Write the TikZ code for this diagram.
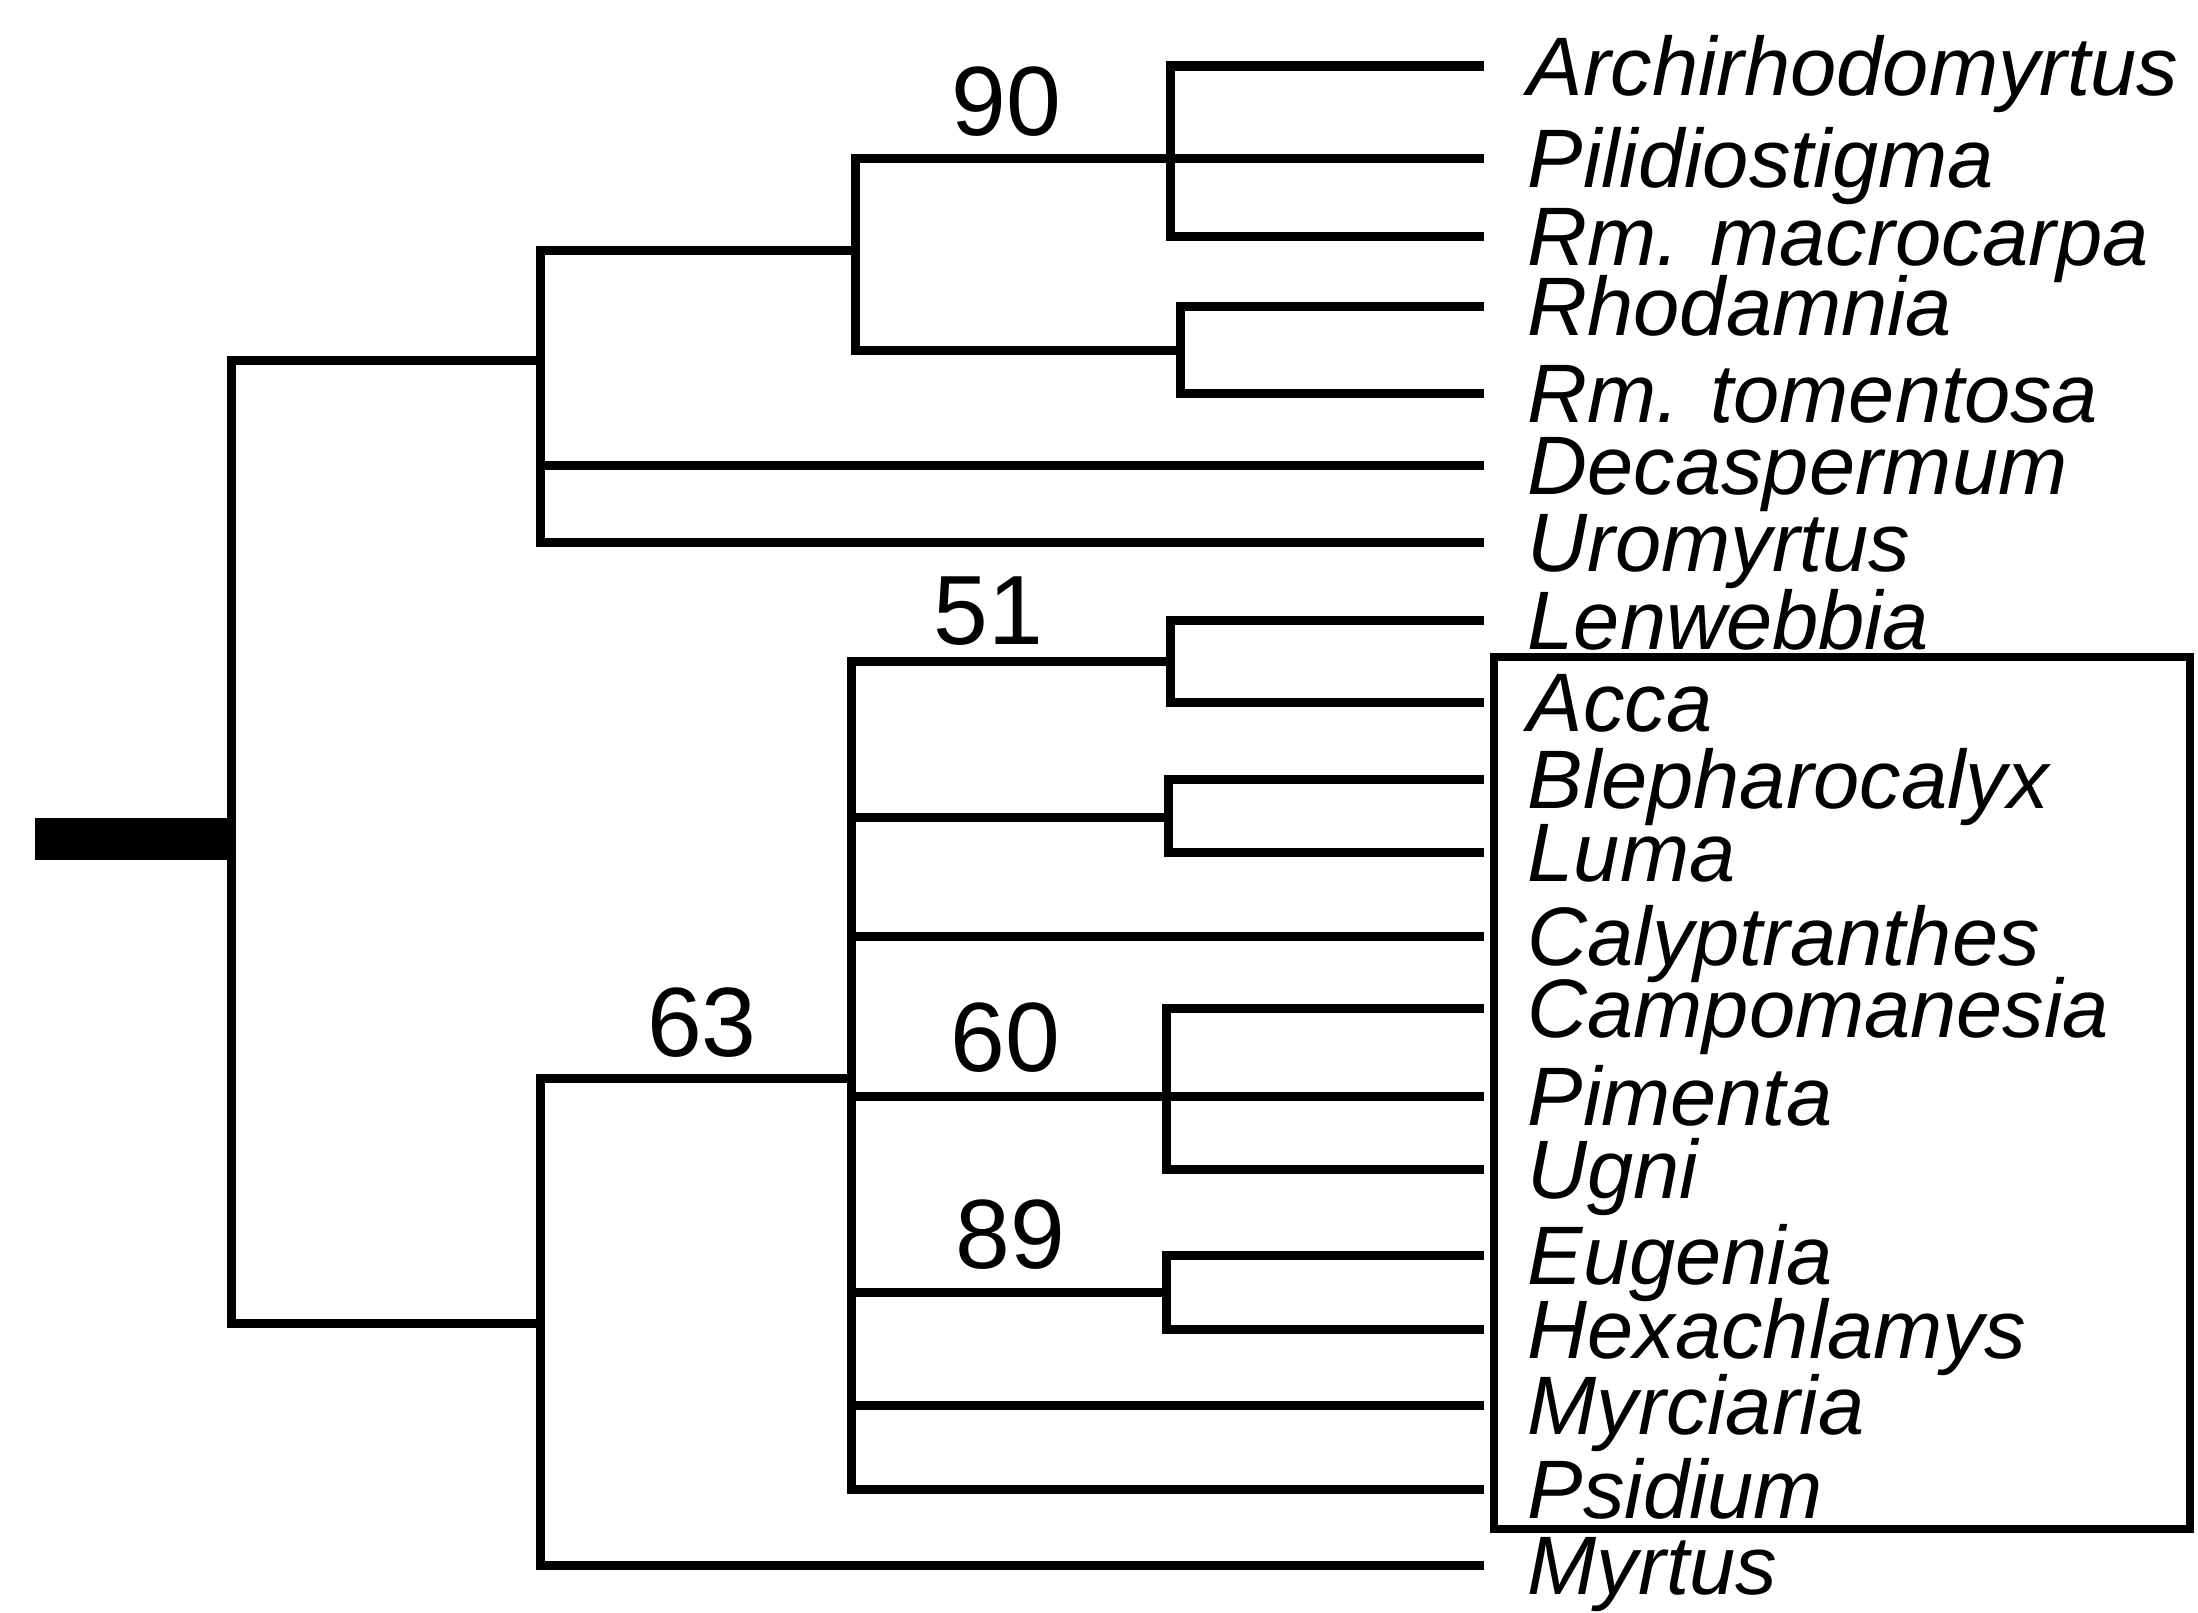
\documentclass[tikz,border=0pt]{standalone}
\usepackage{fontspec}
\setmainfont{Liberation Sans}
\begin{document}
\begin{tikzpicture}[x=0.01cm,y=-0.01cm,
  br/.style={line width=0.09cm, line join=miter},
  leaf/.style={anchor=west, inner xsep=0.43cm, inner ysep=0pt, text height=0.59cm, text depth=0cm,
    font=\fontsize{23.6}{28}\selectfont\itshape},
  supp/.style={inner sep=0pt, font=\fontsize{28}{32}\selectfont}]
\useasboundingbox (0,0) rectangle (2198,1612);
% leaves
\node[leaf] (archi) at (1484,66) {Archirhodomyrtus};
\node[leaf] (pilid) at (1484,158) {Pilidiostigma};
\node[leaf] (macro) at (1484,236) {Rm. macrocarpa};
\node[leaf] (rhoda) at (1484,306) {Rhodamnia};
\node[leaf] (tomen) at (1484,393) {Rm. tomentosa};
\node[leaf] (decas) at (1484,465) {Decaspermum};
\node[leaf] (uromy) at (1484,542) {Uromyrtus};
\node[leaf] (lenwe) at (1484,620) {Lenwebbia};
\node[leaf] (acca) at (1484,702) {Acca};
\node[leaf] (bleph) at (1484,779) {Blepharocalyx};
\node[leaf] (luma) at (1484,852) {Luma};
\node[leaf] (calyp) at (1484,936) {Calyptranthes};
\node[leaf] (campo) at (1484,1008) {Campomanesia};
\node[leaf] (pimen) at (1484,1096) {Pimenta};
\node[leaf] (ugni) at (1484,1169) {Ugni};
\node[leaf] (eugen) at (1484,1255) {Eugenia};
\node[leaf] (hexac) at (1484,1329) {Hexachlamys};
\node[leaf] (myrci) at (1484,1405) {Myrciaria};
\node[leaf] (psidi) at (1484,1489) {Psidium};
\node[leaf] (myrtu) at (1484,1565) {Myrtus};
% internal nodes
\coordinate (rt0) at (35,839);
\coordinate (R) at (231,839);
\coordinate (B) at (540,360);
\coordinate (C) at (855,250);
\coordinate (D) at (1170,158);
\coordinate (E) at (1180,350);
\coordinate (F) at (540,1323);
\coordinate (G) at (851,1078);
\coordinate (H) at (1170,661);
\coordinate (I) at (1168,817);
\coordinate (J) at (1166,1096);
\coordinate (K) at (1166,1292);
% root bar
\draw[line width=0.42cm] (rt0) -- (R);
% branches
\draw[br] (R) |- (B);
\draw[br] (R) |- (F);
\draw[br] (B) |- (C);
\draw[br] (B) |- (decas.west);
\draw[br] (B) |- (uromy.west);
\draw[br] (C) |- (D);
\draw[br] (C) |- (E);
\draw[br] (D) |- (archi.west);
\draw[br] (D) |- (pilid.west);
\draw[br] (D) |- (macro.west);
\draw[br] (E) |- (rhoda.west);
\draw[br] (E) |- (tomen.west);
\draw[br] (F) |- (G);
\draw[br] (F) |- (myrtu.west);
\draw[br] (G) |- (H);
\draw[br] (G) |- (I);
\draw[br] (G) |- (calyp.west);
\draw[br] (G) |- (J);
\draw[br] (G) |- (K);
\draw[br] (G) |- (myrci.west);
\draw[br] (G) |- (psidi.west);
\draw[br] (H) |- (lenwe.west);
\draw[br] (H) |- (acca.west);
\draw[br] (I) |- (bleph.west);
\draw[br] (I) |- (luma.west);
\draw[br] (J) |- (campo.west);
\draw[br] (J) |- (pimen.west);
\draw[br] (J) |- (ugni.west);
\draw[br] (K) |- (eugen.west);
\draw[br] (K) |- (hexac.west);
% support values
\node[supp] (s90) at (1006,102) {90};
\node[supp] (s51) at (988,611) {51};
\node[supp] (s63) at (702,1023) {63};
\node[supp] (s60) at (1005,1038) {60};
\node[supp] (s89) at (1010,1235) {89};
% box
\node[draw, line width=0.08cm, minimum width=6.96cm, minimum height=8.72cm, inner sep=0pt] (box) at (1842,1093) {};
\end{tikzpicture}
\end{document}
